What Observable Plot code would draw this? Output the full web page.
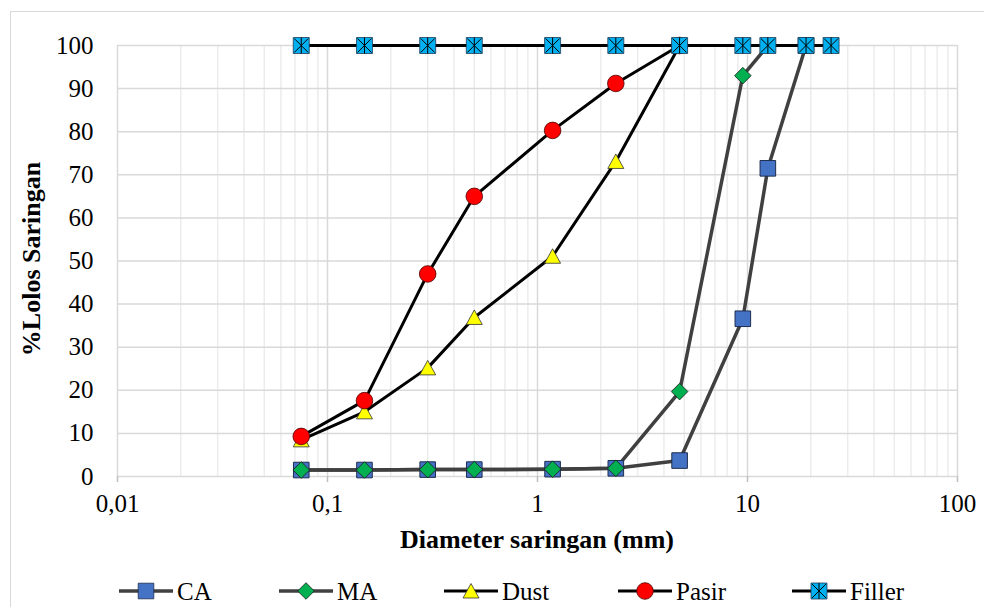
<!DOCTYPE html>
<html>
<head>
<meta charset="utf-8">
<script src="https://cdn.jsdelivr.net/npm/d3@7"></script>
<script src="https://cdn.jsdelivr.net/npm/@observablehq/plot@0.6"></script>
<style>
  html, body { margin: 0; padding: 0; background: #fff; }
  #wrap { position: relative; width: 984px; height: 607px; overflow: hidden; font-family: Tinos, "Liberation Serif", "Times New Roman", Times, serif; color: #000; }
  #border { position: absolute; left: 10px; top: 11px; width: 1000px; height: 640px; border: 1px solid #d9d9d9; box-sizing: border-box; }
  #chart { position: absolute; left: 0; top: 0; }
  #chart svg, #chart svg text { font-family: Tinos, "Liberation Serif", "Times New Roman", Times, serif !important; }
  .ytitle { position: absolute; left: 32px; top: 259px; transform: translate(-50%, -50%) rotate(-90deg); font-weight: bold; font-size: 26px; white-space: nowrap; }
  .xtitle { position: absolute; left: 537px; top: 540px; transform: translate(-50%, -50%); font-weight: bold; font-size: 26px; white-space: nowrap; }
  #legend { position: absolute; left: 0; top: 571px; }
  #legend text { font-family: Tinos, "Liberation Serif", "Times New Roman", Times, serif !important; }
</style>
</head>
<body>
<div id="wrap">
  <div id="border"></div>
  <div id="chart"></div>
  <div class="ytitle">%Lolos Saringan</div>
  <div class="xtitle">Diameter saringan (mm)</div>
  <svg id="legend" width="984" height="36"></svg>
</div>
<script>
// ---- data ----
const sieve = [0.075, 0.15, 0.3, 0.5, 1.18, 2.36, 4.75, 9.5, 12.5, 19, 25];
const caValues = [1.5, 1.5, 1.6, 1.6, 1.7, 1.9, 3.7, 36.6, 71.5, 100];
const maValues = [1.5, 1.5, 1.6, 1.6, 1.7, 1.9, 19.7, 93.0, 100];
const dustValues = [8.5, 15.0, 25.2, 36.9, 51.1, 73.1, 100];
const pasirValues = [9.3, 17.6, 47.0, 65.0, 80.3, 91.2, 100];
const fillerValues = [100, 100, 100, 100, 100, 100, 100, 100, 100, 100, 100];
const seriesNames = ["CA", "MA", "Dust", "Pasir", "Filler"];
const xTicks = [0.01, 0.1, 1, 10, 100];
const xTickLabels = ["0,01", "0,1", "1", "10", "100"];
const yTicks = [0, 10, 20, 30, 40, 50, 60, 70, 80, 90, 100];

const toRows = vals => vals.map((v, i) => ({x: sieve[i], y: v}));
const ca = toRows(caValues), ma = toRows(maValues), dust = toRows(dustValues),
      pasir = toRows(pasirValues), filler = toRows(fillerValues);

// minor log gridlines (2..9 in each decade)
const minorTicks = [];
for (let e = -2; e < 2; e++) for (let m = 2; m <= 9; m++) minorTicks.push(m * Math.pow(10, e));

// ---- custom marker symbols ----
const sqSym = {draw(c) { const h = 7.8; c.rect(-h, -h, 2 * h, 2 * h); }};
const diaSym = {draw(c) { const h = 8.3; c.moveTo(0, -h); c.lineTo(h, 0); c.lineTo(0, h); c.lineTo(-h, 0); c.closePath(); }};
const triSym = {draw(c) { c.moveTo(0, -7.5); c.lineTo(8, 7); c.lineTo(-8, 7); c.closePath(); }};
const cirSym = {draw(c) { const r = 8.3; c.moveTo(r, 0); c.arc(0, 0, r, 0, 2 * Math.PI); }};
const fillSq = {draw(c) { const h = 8; c.rect(-h, -h, 2 * h, 2 * h); }};
const astSym = {draw(c) { const h = 7; c.moveTo(-h, -h); c.lineTo(h, h); c.moveTo(h, -h); c.lineTo(-h, h); c.moveTo(0, -8); c.lineTo(0, 8); }};

const GRAY = "#404040";
const SERIF = "Tinos, 'Liberation Serif', 'Times New Roman', Times, serif";
const colors = {CA: "#4472C4", MA: "#00B050", Dust: "#FFFF00", Pasir: "#FF0000", Filler: "#00B0F0"};

const chart = Plot.plot({
  width: 984,
  height: 560,
  marginLeft: 117,
  marginRight: 27,
  marginTop: 45,
  marginBottom: 84,
  style: {fontFamily: SERIF, color: "#000", background: "transparent"},
  x: {type: "log", domain: [0.01, 100]},
  y: {domain: [0, 100]},
  marks: [
    Plot.ruleX(minorTicks, {stroke: "#ececec", strokeWidth: 1.5}),
    Plot.ruleX(xTicks, {stroke: "#d9d9d9", strokeWidth: 1.5}),
    Plot.ruleY(yTicks, {stroke: "#d9d9d9", strokeWidth: 1.5}),
    Plot.axisX({ticks: xTicks, tickFormat: d => xTickLabels[xTicks.indexOf(d)], tickSize: 6, tickPadding: 12, stroke: "#bfbfbf", strokeWidth: 1.5, fontSize: 25, fontFamily: SERIF, label: null}),
    Plot.axisY({ticks: yTicks, tickSize: 0, tickPadding: 24, fontSize: 25, fontFamily: SERIF, label: null}),
    Plot.line(ca, {x: "x", y: "y", stroke: GRAY, strokeWidth: 3.5}),
    Plot.line(ma, {x: "x", y: "y", stroke: GRAY, strokeWidth: 3.5}),
    Plot.line(dust, {x: "x", y: "y", stroke: "#000", strokeWidth: 3}),
    Plot.line(pasir, {x: "x", y: "y", stroke: "#000", strokeWidth: 3}),
    Plot.line(filler, {x: "x", y: "y", stroke: "#000", strokeWidth: 3}),
    Plot.dot(ca, {x: "x", y: "y", symbol: sqSym, fill: colors.CA, stroke: "#1f2d4f", strokeWidth: 1}),
    Plot.dot(ma, {x: "x", y: "y", symbol: diaSym, fill: colors.MA, stroke: "#1a1a1a", strokeWidth: 0.8}),
    Plot.dot(dust, {x: "x", y: "y", symbol: triSym, fill: colors.Dust, stroke: "#333", strokeWidth: 0.8}),
    Plot.dot(pasir, {x: "x", y: "y", symbol: cirSym, fill: colors.Pasir, stroke: "#4a0000", strokeWidth: 0.8}),
    Plot.dot(filler, {x: "x", y: "y", symbol: fillSq, fill: colors.Filler, stroke: "#1f3b57", strokeWidth: 0.8}),
    Plot.dot(filler, {x: "x", y: "y", symbol: astSym, fill: "none", stroke: "#000", strokeWidth: 1})
  ]
});
document.getElementById("chart").appendChild(chart);

// ---- legend ----
const leg = d3.select("#legend");
const legendStarts = [119, 279, 444, 618, 792];
const legendSyms = [sqSym, diaSym, triSym, cirSym, fillSq];
const legendStroke = ["#1f2d4f", "#1a1a1a", "#333", "#4a0000", "#1f3b57"];
const legendLine = [GRAY, GRAY, "#000", "#000", "#000"];
const cy = 20;
seriesNames.forEach((name, i) => {
  const x0 = legendStarts[i];
  const g = leg.append("g");
  g.append("line").attr("x1", x0).attr("x2", x0 + 54).attr("y1", cy).attr("y2", cy)
    .attr("stroke", legendLine[i]).attr("stroke-width", i < 2 ? 3.5 : 3);
  const p = d3.path(); legendSyms[i].draw(p, 0);
  g.append("path").attr("d", p.toString()).attr("transform", `translate(${x0 + 27},${cy})`)
    .attr("fill", colors[name]).attr("stroke", legendStroke[i]).attr("stroke-width", 0.8);
  if (name === "Filler") {
    const q = d3.path(); astSym.draw(q, 0);
    g.append("path").attr("d", q.toString()).attr("transform", `translate(${x0 + 27},${cy})`)
      .attr("fill", "none").attr("stroke", "#000").attr("stroke-width", 1);
  }
  g.append("text").attr("x", x0 + 58).attr("y", cy).attr("dy", "0.35em")
    .attr("font-size", 25).attr("font-family", SERIF)
    .text(name);
});
</script>
</body>
</html>
